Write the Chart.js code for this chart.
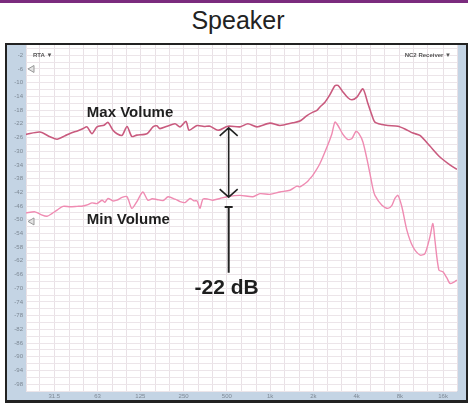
<!DOCTYPE html>
<html>
<head>
<meta charset="utf-8">
<script src="https://cdn.jsdelivr.net/npm/chart.js@4/dist/chart.umd.min.js"></script>
<style>
	body { margin: 0; width: 468px; height: 403px; overflow: hidden; background: #fff; position: relative; font-family: "Liberation Sans", Arial, sans-serif; }
	.topbar { position: absolute; left: 0; top: 0; width: 468px; height: 3px; background: #7b2b7e; }
	.title { position: absolute; left: 0; top: 6px; width: 476px; text-align: center; font-size: 25px; color: #222; }
	.frame { position: absolute; left: 5px; top: 43px; width: 463px; height: 360px; background: #222; }
	.panel { position: absolute; left: 7px; top: 45px; width: 459px; height: 355px; background: #c4d4e4; }
	#speaker-chart { position: absolute; left: 0; top: 0; }
</style>
</head>
<body>
<div class="topbar"></div>
<div class="title">Speaker</div>
<div class="frame"></div>
<div class="panel"></div>
<canvas id="speaker-chart" width="468" height="403"></canvas>
<script>
//Curvas RTA do alto-falante: volume máximo e mínimo
const maxFreq = [20, 25, 29.4, 32.9, 37.4, 40.5, 46, 49.9, 53.2, 57.6, 62.4, 69.8, 74.4, 80.6, 86, 93.2, 101, 109, 118, 139, 153, 163, 171, 192, 218, 236, 260, 273, 310, 347, 382, 434, 509, 617, 701, 810, 998, 1171, 1443, 1614, 1805, 1987, 2118, 2224, 2409, 2610, 2827, 2968, 3214, 3482, 3712, 4022, 4429, 4797, 5115, 5367, 6004, 6608, 7758, 8680, 9866, 11038, 12956, 15206, 17850, 19968];
const maxDb = [-25.1, -24.4, -25.8, -26.5, -25.5, -24.8, -24.0, -23.4, -22.9, -24.9, -22.9, -22.4, -21.6, -23.9, -24.9, -25.4, -22.8, -25.7, -25.3, -24.9, -22.9, -22.6, -23.4, -22.7, -22.0, -22.9, -21.3, -23.9, -22.5, -22.8, -22.7, -23.9, -22.7, -22.9, -22.0, -22.9, -21.8, -22.5, -21.7, -21.2, -19.6, -18.6, -18.1, -17.1, -15.7, -13.5, -10.9, -10.8, -12.7, -14.4, -15.0, -14.2, -11.8, -16.1, -19.5, -21.5, -22.2, -22.5, -22.7, -23.5, -24.7, -25.4, -28.5, -31.7, -34.0, -35.3];

const minFreq = [20, 23.1, 25.4, 28, 30.3, 32.9, 36.2, 40.5, 45.3, 49.9, 54, 57.6, 62.4, 67.6, 70.9, 74.4, 80.6, 86, 93.2, 101, 109, 118, 130, 141, 151, 163, 180, 195, 218, 236, 256, 277, 295, 310, 325, 341, 370, 400, 448, 501, 617, 760, 850, 998, 1171, 1375, 1538, 1614, 1805, 1894, 1987, 2224, 2488, 2694, 2827, 2968, 3214, 3482, 3712, 3960, 4154, 4429, 4797, 5034, 5198, 5367, 6004, 6608, 7048, 7396, 7758, 8273, 8962, 9866, 11038, 11958, 12956, 13594, 14040, 14964, 15956, 17012, 17850, 19030, 19968];
const minDb = [-48.0, -47.7, -48.5, -49.0, -48.2, -47.2, -46.1, -46.2, -46.1, -46.0, -45.6, -45.1, -45.3, -44.3, -44.9, -43.8, -44.5, -44.3, -43.5, -43.3, -46.7, -44.8, -41.9, -44.3, -43.9, -44.1, -44.4, -43.3, -44.0, -44.7, -45.0, -43.8, -44.5, -44.5, -46.7, -44.0, -44.0, -44.3, -43.8, -43.3, -42.9, -43.3, -42.4, -42.6, -41.9, -41.4, -40.2, -40.4, -39.0, -38.0, -37.0, -33.6, -28.8, -24.9, -21.5, -22.5, -25.1, -26.6, -26.3, -24.2, -24.9, -27.3, -33.6, -38.0, -40.9, -42.9, -45.8, -46.7, -45.8, -43.8, -42.9, -46.3, -53.1, -57.9, -60.3, -59.9, -55.0, -51.1, -56.0, -64.7, -65.2, -67.0, -68.6, -68.2, -67.6];

// grade de 1/3 de oitava e rótulos de oitava
const gridFreqs = [20, 25, 31.5, 40, 50, 63, 80, 100, 125, 160, 200, 250, 315, 400, 500, 630, 800, 1000, 1250, 1600, 2000, 2500, 3150, 4000, 5000, 6300, 8000, 10000, 12500, 16000, 20000];
const labelFreqs = [31.5, 63, 125, 250, 500, 1000, 2000, 4000, 8000, 16000];
const labelTexts = ["31.5", "63", "125", "250", "500", "1k", "2k", "4k", "8k", "16k"];
const dbTicks = [-2, -6, -10, -14, -18, -22, -26, -30, -34, -38, -42, -46, -50, -54, -58, -62, -66, -70, -74, -78, -82, -86, -90, -94, -98];

const seriesNames = ["Max Volume", "Min Volume"];
const gapLabel = "-22 dB";

const ctx = document.getElementById("speaker-chart");

const toPoints = (fs, ds) => fs.map((f, i) => ({ x: f, y: ds[i] }));

const annotations = {
	id: "annotations",
	beforeDraw(chart) {
		const a = chart.chartArea;
		const c = chart.ctx;
		c.save();
		c.fillStyle = "#ffffff";
		c.fillRect(a.left, a.top, a.right - a.left, a.bottom - a.top);
		c.restore();
	},
	afterDatasetsDraw(chart) {
		const c = chart.ctx;
		const x = chart.scales.x;
		const y = chart.scales.y;
		const a = chart.chartArea;
		c.save();

		// cabeçalho do RTA
		c.fillStyle = "#555";
		c.font = "bold 6px 'Liberation Sans', Arial";
		c.textBaseline = "middle";
		c.textAlign = "left";
		c.fillText("RTA \u25BC", a.left + 7, y.getPixelForValue(-2));
		c.textAlign = "right";
		c.fillText("NC2 Receiver \u25BC", a.right - 6, y.getPixelForValue(-2));

		// marcadores de nível
		[-6, -50.5].forEach(v => {
			const py = y.getPixelForValue(v);
			c.beginPath();
			c.moveTo(a.left + 2, py);
			c.lineTo(a.left + 8, py - 3.5);
			c.lineTo(a.left + 8, py + 3.5);
			c.closePath();
			c.fillStyle = "#e4e4e4";
			c.fill();
			c.strokeStyle = "#999";
			c.lineWidth = 1;
			c.stroke();
		});

		// legendas das curvas
		c.fillStyle = "#1e1e1e";
		c.font = "bold 15px 'Liberation Sans', Arial";
		c.textAlign = "left";
		c.textBaseline = "middle";
		c.fillText(seriesNames[0], x.getPixelForValue(53), y.getPixelForValue(-18.7));
		c.fillText(seriesNames[1], x.getPixelForValue(53), y.getPixelForValue(-50));

		// seta dupla entre as curvas
		const ax = x.getPixelForValue(515);
		const top = y.getPixelForValue(-23.2);
		const bot = y.getPixelForValue(-43.4);
		c.strokeStyle = "#222";
		c.lineWidth = 1.6;
		c.beginPath();
		c.moveTo(ax, top);
		c.lineTo(ax, bot);
		c.moveTo(ax - 9, top + 8);
		c.lineTo(ax, top);
		c.lineTo(ax + 9, top + 8);
		c.moveTo(ax - 9, bot - 8);
		c.lineTo(ax, bot);
		c.lineTo(ax + 9, bot - 8);
		c.stroke();

		// marcador T e texto da diferença
		const tTop = y.getPixelForValue(-46.3);
		const tBot = y.getPixelForValue(-65.5);
		c.lineWidth = 2;
		c.beginPath();
		c.moveTo(ax - 4, tTop);
		c.lineTo(ax + 4, tTop);
		c.moveTo(ax, tTop);
		c.lineTo(ax, tBot);
		c.stroke();

		c.font = "bold 21px 'Liberation Sans', Arial";
		c.textAlign = "center";
		c.fillText(gapLabel, ax - 2, y.getPixelForValue(-69.9));
		c.restore();
	}
};

new Chart(ctx, {
	type: "line",
	data: {
		datasets: [
			{
				label: seriesNames[0],
				data: toPoints(maxFreq, maxDb),
				borderColor: "#c95a7e",
				borderWidth: 1.6,
				pointRadius: 0,
				tension: 0.25
			},
			{
				label: seriesNames[1],
				data: toPoints(minFreq, minDb),
				borderColor: "#ef8bb2",
				borderWidth: 1.4,
				pointRadius: 0,
				tension: 0.25
			}
		]
	},
	options: {
		responsive: false,
		animation: false,
		layout: {
			padding: { left: 7, top: 45, right: 11, bottom: 2 }
		},
		plugins: {
			legend: { display: false },
			tooltip: { enabled: false }
		},
		scales: {
			x: {
				type: "logarithmic",
				min: 20,
				max: 20000,
				afterBuildTicks: scale => {
					scale.ticks = gridFreqs.map(v => ({ value: v }));
				},
				afterFit: scale => { scale.height = 10; },
				grid: { color: "#e9e1e6", drawTicks: false },
				border: { display: false },
				ticks: {
					autoSkip: false,
					maxRotation: 0,
					padding: 2,
					color: "#7d8894",
					font: { size: 6, family: "Liberation Sans" },
					callback: function (valor) {
						const i = labelFreqs.indexOf(valor);
						return i >= 0 ? labelTexts[i] : "";
					}
				}
			},
			y: {
				min: -100,
				max: 1,
				afterBuildTicks: scale => {
					const t = [];
					for (let v = -100; v <= 0; v += 2) t.push({ value: v });
					scale.ticks = t;
				},
				afterFit: scale => { scale.width = 19; },
				grid: { color: "#ece5e9", drawTicks: false },
				border: { display: false },
				ticks: {
					autoSkip: false,
					padding: 3,
					color: "#7d8894",
					font: { size: 6, family: "Liberation Sans" },
					callback: function (valor) {
						return dbTicks.includes(valor) ? String(valor) : "";
					}
				}
			}
		}
	},
	plugins: [annotations]
});
</script>
</body>
</html>
